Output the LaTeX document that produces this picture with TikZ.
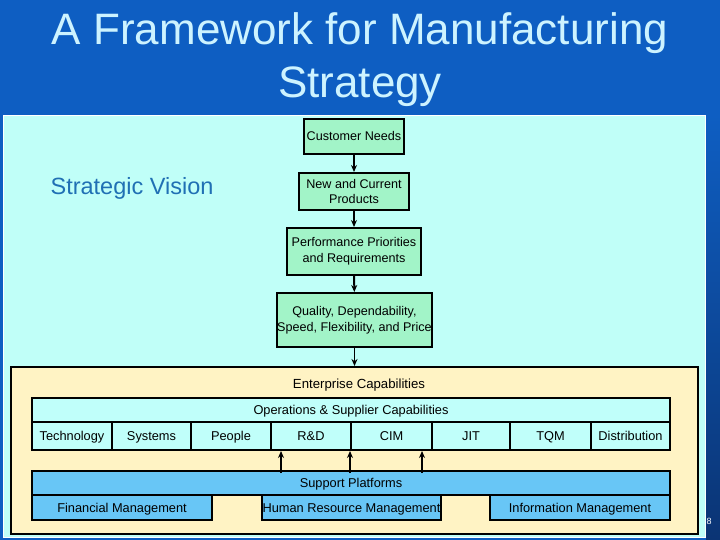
\documentclass[tikz,border=0pt]{standalone}
\usepackage{fontspec}
\setmainfont{Liberation Sans}
\usetikzlibrary{arrows.meta,calc}
\definecolor{bgblue}{HTML}{0E5EC2}
\definecolor{navy}{HTML}{0B3474}
\definecolor{titlec}{HTML}{CDF3FF}
\definecolor{panelc}{HTML}{C0FFF8}
\definecolor{mint}{HTML}{A2F4C8}
\definecolor{ylw}{HTML}{FFF3C4}
\definecolor{cellc}{HTML}{C0FFFA}
\definecolor{supc}{HTML}{68C6F6}
\definecolor{visc}{HTML}{2070B4}
\begin{document}
\begin{tikzpicture}[x=1pt,y=-1pt,
  gbox/.style={draw=black, line width=2pt, fill=mint, inner sep=0pt, align=center,
    font=\fontsize{12.6}{15}\selectfont},
  cbox/.style={draw=black, line width=2pt, fill=cellc, inner sep=0pt, align=center,
    minimum height=28, text height=10.5pt, text depth=1.5pt, font=\fontsize{12.8}{15}\selectfont},
  sbox/.style={draw=black, line width=2pt, fill=supc, inner sep=0pt, align=center,
    minimum height=25, text height=10.5pt, text depth=1.5pt, font=\fontsize{12.8}{15}\selectfont},
  arr/.style={line width=2pt, -{Stealth[length=7pt,width=6pt]}},
  lbl/.style={font=\fontsize{12.8}{15}\selectfont}]
\useasboundingbox (0,0) rectangle (720,540);
\fill[bgblue] (0,0) rectangle (720,540);
\shade[top color=bgblue, bottom color=navy] (706,115) rectangle (720,540);
% title
\node[anchor=base, text=titlec, font=\fontsize{44}{53}\selectfont] (t1) at (360,45) {A Framework for Manufacturing};
\node[anchor=base, text=titlec, font=\fontsize{44}{53}\selectfont] (t2) at (360,98) {Strategy};
% panel
\filldraw[fill=panelc, draw=white, line width=0.8pt] (3.5,115) rectangle (705.5,537.5);
\node[text=visc, font=\fontsize{23.5}{28}\selectfont] (vis) at (132,188) {Strategic Vision};
% top chain
\node[gbox, minimum width=100, minimum height=35, text height=10.5pt, text depth=1.5pt] (cn) at (354,136.5) {Customer Needs};
\node[gbox, minimum width=110, minimum height=37] (nc) at (354,191.5) {New and Current\\Products};
\node[gbox, minimum width=134, minimum height=47, font=\fontsize{12.6}{16}\selectfont] (pp) at (354,251.5) {Performance Priorities\\and Requirements};
\node[gbox, minimum width=154, minimum height=54, font=\fontsize{12.6}{16}\selectfont] (q) at (354.5,320) {Quality, Dependability,\\Speed, Flexibility, and Price};
\draw[arr] (cn) -- (nc);
\draw[arr] (nc) -- (pp);
\draw[arr] (pp) -- (q);
% enterprise
\node[draw=black, line width=2pt, fill=ylw, minimum width=687, minimum height=167, inner sep=0] (ent) at (354.5,450.5) {};
\draw[line width=1.1pt, -{Stealth[length=7pt,width=6pt]}] (q.south) -- (q.south |- ent.north);
\node[lbl, font=\fontsize{13.2}{15}\selectfont] (entlbl) at (359,385) {Enterprise Capabilities};
\node[cbox, minimum width=638, minimum height=24] (ops) at (351,410) {Operations \& Supplier Capabilities};
\node[cbox, minimum width=80] (tech) at (72,436) {Technology};
\node[cbox, minimum width=79] (sys) at (151.5,436) {Systems};
\node[cbox, minimum width=80] (peo) at (231,436) {People};
\node[cbox, minimum width=80] (rd) at (311,436) {R\&D};
\node[cbox, minimum width=81] (cim) at (391.5,436) {CIM};
\node[cbox, minimum width=78] (jit) at (471,436) {JIT};
\node[cbox, minimum width=81] (tqm) at (550.5,436) {TQM};
\node[cbox, minimum width=79] (dist) at (630.5,436) {Distribution};
% support
\node[sbox, minimum width=638, minimum height=24] (sup) at (351,483) {Support Platforms};
\node[sbox, minimum width=180] (fin) at (122,507.5) {Financial Management};
\node[sbox, minimum width=179] (hrm) at (351.5,507.5) {Human Resource Management};
\node[sbox, minimum width=180] (inf) at (580,507.5) {Information Management};
\coordinate (a1) at ($(rd.south west)+(11,0)$);
\coordinate (a2) at (cim.south west);
\coordinate (a3) at ($(cim.south east)+(-11,0)$);
\draw[arr] ([yshift=-3pt]a1 |- sup.north) -- (a1);
\draw[arr] ([yshift=-3pt]a2 |- sup.north) -- (a2);
\draw[arr] ([yshift=-3pt]a3 |- sup.north) -- (a3);
\node[text=white, font=\fontsize{9}{10}\selectfont] (pg) at (709,521) {8};
\end{tikzpicture}
\end{document}
